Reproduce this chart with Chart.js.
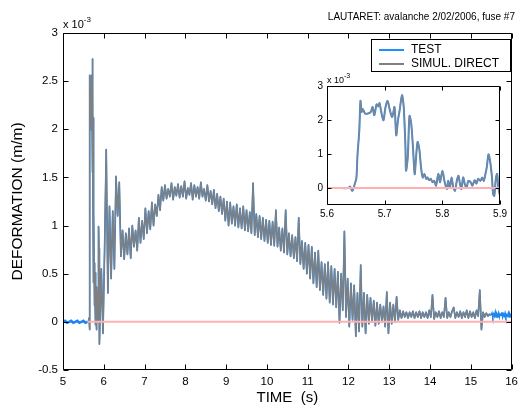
<!DOCTYPE html>
<html><head><meta charset="utf-8">
<script src="https://cdn.jsdelivr.net/npm/chart.js"></script>
<style>
html,body{margin:0;padding:0;background:#fff;}
#wrap{position:relative;width:523px;height:405px;font-family:"Liberation Sans",Arial,sans-serif;color:#000;overflow:hidden;}
canvas{position:absolute;}
.lbl{position:absolute;white-space:nowrap;line-height:1;}
.sup{position:relative;}
#legend{position:absolute;left:371px;top:39px;width:140px;height:33px;box-sizing:border-box;border:1px solid #000;background:#fff;font-size:12px;}
.row{position:absolute;left:0;height:14px;}
.smp{position:absolute;left:7px;width:25px;height:1.5px;}
.txt{position:absolute;left:39px;top:0;line-height:14px;}
</style></head><body>
<div id="wrap">
<canvas id="main" width="523" height="405" style="left:0;top:0"></canvas>
<canvas id="inset" width="214" height="152" style="left:296px;top:70px"></canvas>
<div class="lbl" style="right:8px;top:12px;font-size:10px;">LAUTARET: avalanche 2/02/2006, fuse #7</div>
<div class="lbl" style="left:63px;top:19px;font-size:11px;">x 10<span class="sup" style="font-size:8px;top:-6px;">-3</span></div>
<div class="lbl" style="left:327px;top:76px;font-size:9px;">x 10<span class="sup" style="font-size:7px;top:-5px;">-3</span></div>
<div id="legend">
  <div class="row" style="top:2px;width:138px;"><div class="smp" style="top:7px;background:#1e8fff;"></div><div class="txt">TEST</div></div>
  <div class="row" style="top:16px;width:138px;"><div class="smp" style="top:7px;background:#808080;"></div><div class="txt">SIMUL. DIRECT</div></div>
</div>
</div>
<script>
// ---- data (deformation in units of 1e-3 m/m, time in s) ----
const xTicks = [5,6,7,8,9,10,11,12,13,14,15,16];
const xTickLabels = ['5','6','7','8','9','10','11','12','13','14','15','16'];
const yTicks = [-0.5,0,0.5,1,1.5,2,2.5,3];
const yTickLabels = ['-0.5','0','0.5','1','1.5','2','2.5','3'];
const insetXTicks = [5.6,5.7,5.8,5.9];
const insetXTickLabels = ['5.6','5.7','5.8','5.9'];
const insetYTicks = [0,1,2,3];
const insetYTickLabels = ['0','1','2','3'];

// detailed record of the first shock (shown in the inset), both signals
const insetTime = [5.600,5.620,5.637,5.640,5.644,5.649,5.651,5.653,5.656,5.658,5.660,5.662,5.666,5.671,5.676,5.679,5.682,5.686,5.689,5.691,5.694,5.698,5.701,5.705,5.709,5.713,5.717,5.720,5.723,5.726,5.730,5.733,5.736,5.737,5.740,5.743,5.746,5.749,5.752,5.754,5.757,5.760,5.763,5.766,5.769,5.772,5.774,5.777,5.780,5.783,5.786,5.789,5.793,5.796,5.800,5.804,5.808,5.810,5.813,5.816,5.819,5.822,5.825,5.828,5.830,5.833,5.836,5.839,5.842,5.845,5.849,5.852,5.856,5.859,5.862,5.866,5.869,5.872,5.874,5.877,5.880,5.883,5.886,5.888,5.890,5.893,5.895,5.897,5.900];
const insetSignal = [0,0,0,0.04,-0.08,0.17,0.3,1.0,1.7,2.56,2.24,2.32,2.19,2.19,2.24,2.38,2.14,2.46,2.40,2.50,2.24,1.99,2.34,2.56,2.29,2.09,2.38,1.55,1.99,2.29,2.73,2.38,1.20,0.51,0.90,2.12,1.89,1.20,0.41,0.81,1.35,1.15,0.61,0.31,0.41,0.27,0.31,0.23,0.27,0.17,0.21,0.07,0.41,0.17,0.51,0.17,-0.03,0.21,0.01,0.31,0.01,-0.08,0.21,0.36,0.17,-0.03,0.31,0.11,0.01,0.21,0.17,0.07,0.23,0.13,0.27,0.21,0.31,0.21,0.36,0.61,0.99,0.76,0.31,-0.18,-0.23,0.31,0.41,0.01,-0.23];

// simulated / measured record, sampled every 0.04 s from 5.94 s to 15.50 s
const recordStart = 5.94, recordStep = 0.04;
const recordSignal = [
 0.55,-0.12,0.75,1.79,0.3,1.2,0.45,1.15,0.55,
 1.51,1.1,1.45,0.68,0.95,0.65,0.92,0.7,0.97,0.66,
 1.0,0.78,0.95,0.74,1.08,0.82,1.05,0.86,1.18,0.92,
 1.15,0.96,1.24,1.0,1.22,1.1,1.32,1.16,1.4,1.26,
 1.42,1.28,1.38,1.3,1.44,1.27,1.4,1.31,1.43,1.29,
 1.41,1.3,1.46,1.28,1.39,1.32,1.44,1.27,1.42,1.3,
 1.4,1.28,1.45,1.3,1.38,1.26,1.42,1.25,1.36,1.22,
 1.37,1.18,1.33,1.15,1.3,1.12,1.28,1.05,1.25,1.0,
 1.24,1.02,1.2,1.0,1.22,0.98,1.18,0.97,1.2,0.95,
 1.16,0.94,1.14,0.92,1.44,0.9,1.12,0.88,1.1,0.86,
 1.08,0.84,1.06,0.82,1.05,0.8,1.04,0.79,1.16,0.78,
 0.98,0.74,0.97,0.72,1.16,0.7,0.92,0.68,0.9,0.66,
 0.88,0.63,1.08,0.6,0.84,0.55,0.82,0.5,0.8,0.45,
 0.78,0.4,0.72,0.36,0.74,0.33,0.62,0.28,0.6,0.24,
 0.62,0.2,0.58,0.18,0.55,0.15,0.52,-0.01,0.5,0.12,
 0.94,0.05,0.45,-0.05,0.4,0.02,0.38,-0.15,0.3,-0.1,
 0.59,-0.05,0.3,-0.12,0.28,-0.02,0.25,0.0,0.22,-0.04,
 0.2,-0.02,0.18,0.0,0.16,-0.05,0.31,-0.12,0.2,-0.02,
 0.18,0.0,0.26,0.02,0.12,0.04,0.11,0.05,0.1,0.04,
 0.1,0.05,0.11,0.04,0.1,0.05,0.11,0.04,0.1,0.05,
 0.1,0.04,0.12,0.05,0.28,0.03,0.1,0.05,0.11,0.04,
 0.1,0.05,0.25,0.04,0.1,0.05,0.11,0.15,0.04,0.1,
 0.05,0.11,0.04,0.1,0.05,0.12,0.04,0.11,0.05,0.1,
 0.04,0.12,0.06,0.33,-0.08,0.1,0.05,0.09,0.06,0.08,0.07];

// measured signal only: before the shock (5.0–5.6 s, every 0.05 s) and after the simulation ends (15.52–16 s, every 0.02 s)
const testLeadStart = 5.0, testLeadStep = 0.05;
const testLead = [0,0.01,-0.01,0,0.01,-0.01,0,0.01,-0.01,0,0.01,-0.01,0];
const testTailStart = 15.52, testTailStep = 0.02;
const testTail = [0.09,0.05,0.08,0.06,0.1,0.05,0.08,0.06,0.09,0.05,0.08,0.07,0.1,0.05,0.08,0.06,0.09,0.05,0.07,0.06,0.09,0.05,0.08,0.06,0.07];

const zeroLineMain = [5.6,16];
const zeroLineInset = [5.6,5.9];

// ---- build library data ----
const insetPts = insetTime.map((t,i)=>({x:t,y:insetSignal[i]}));
const recordPts = recordSignal.map((v,i)=>({x:recordStart+i*recordStep,y:v}));
const leadPts = testLead.map((v,i)=>({x:testLeadStart+i*testLeadStep,y:v}));
const tailPts = [recordPts[recordPts.length-1]].concat(testTail.map((v,i)=>({x:testTailStart+i*testTailStep,y:v})));
const simulMain = insetPts.concat(recordPts);

const FONT = "'Liberation Sans', Arial, sans-serif";
Chart.defaults.font.family = FONT;
Chart.defaults.color = '#000';

const framePlugin = {
  id:'frame',
  afterDatasetsDraw(chart, args, opts){
    const {ctx, chartArea:a} = chart;
    const x = chart.scales.x, y = chart.scales.y;
    const L = opts.len || 5;
    ctx.save();
    ctx.strokeStyle = '#000'; ctx.lineWidth = 1;
    const l = Math.round(a.left)+0.5, r = Math.round(a.right)-0.5, t = Math.round(a.top)+0.5, b = Math.round(a.bottom)-0.5;
    ctx.beginPath();
    ctx.rect(l, t, r-l, b-t);
    x.ticks.forEach(tk=>{
      const p = Math.round(x.getPixelForValue(tk.value))+0.5;
      ctx.moveTo(p,b); ctx.lineTo(p,b-L);
      ctx.moveTo(p,t); ctx.lineTo(p,t+L);
    });
    y.ticks.forEach(tk=>{
      const p = Math.round(y.getPixelForValue(tk.value))+0.5;
      ctx.moveTo(l,p); ctx.lineTo(l+L,p);
      ctx.moveTo(r,p); ctx.lineTo(r-L,p);
    });
    ctx.stroke();
    ctx.restore();
  }
};

function lbl(ticks, labels){ return v => { const i = ticks.findIndex(t=>Math.abs(t-v)<1e-9); return i<0?'':labels[i]; }; }

const BLUE = '#1f86ef', GRAY = '#808080';
new Chart(document.getElementById('main'), {
  type:'line',
  data:{datasets:[
    {label:'zero', data:zeroLineMain.map(t=>({x:t,y:0})), borderColor:'#ffb0b0', borderWidth:2, order:0},
    {label:'SIMUL. DIRECT', data:simulMain, borderColor:GRAY, borderWidth:1.4, order:1, borderJoinStyle:'round'},
    {label:'TEST', data:insetPts.concat(recordPts), borderColor:BLUE, borderWidth:1.7, order:2, borderJoinStyle:'round'},
    {label:'TEST lead', data:leadPts.concat([insetPts[0]]), borderColor:BLUE, borderWidth:2.6, order:3},
    {label:'TEST tail', data:tailPts, borderColor:BLUE, borderWidth:1.6, order:3}
  ]},
  options:{
    responsive:false, animation:false, devicePixelRatio:1,
    layout:{padding:{left:0,right:8,top:33,bottom:0}},
    elements:{point:{radius:0}, line:{tension:0}},
    plugins:{legend:{display:false}, tooltip:{enabled:false}, frame:{len:5}},
    scales:{
      x:{type:'linear', min:5, max:16,
         afterBuildTicks:s=>{s.ticks = xTicks.map(v=>({value:v}));},
         afterFit:s=>{s.height = 35;},
         grid:{display:false, drawTicks:false}, border:{display:false},
         ticks:{autoSkip:false, maxRotation:0, padding:5, font:{size:11.5}, callback:lbl(xTicks,xTickLabels)},
         title:{display:true, text:'TIME  (s)', font:{size:15, lineHeight:1}, padding:{top:0,bottom:0}}
      },
      y:{type:'linear', min:-0.5, max:3,
         afterBuildTicks:s=>{s.ticks = yTicks.map(v=>({value:v}));},
         afterFit:s=>{s.width = 63;},
         grid:{display:false, drawTicks:false}, border:{display:false},
         ticks:{autoSkip:false, padding:5, font:{size:11.5}, callback:lbl(yTicks,yTickLabels)},
         title:{display:true, text:'DEFORMATION (m/m)', font:{size:15.5, lineHeight:1}, padding:{top:10,bottom:0}}
      }
    }
  },
  plugins:[framePlugin]
});

new Chart(document.getElementById('inset'), {
  type:'line',
  data:{datasets:[
    {label:'zero', data:zeroLineInset.map(t=>({x:t,y:0})), borderColor:'#ffb0b0', borderWidth:2, order:0},
    {label:'SIMUL. DIRECT', data:insetPts, borderColor:'#7a8796', borderWidth:1.3, order:1, tension:0.3},
    {label:'TEST', data:insetPts, borderColor:'#3c8de0', borderWidth:2, order:2, tension:0.3}
  ]},
  options:{
    responsive:false, animation:false, devicePixelRatio:1,
    layout:{padding:{left:0,right:8,top:16,bottom:0}},
    elements:{point:{radius:0}},
    plugins:{legend:{display:false}, tooltip:{enabled:false}, frame:{len:4}},
    scales:{
      x:{type:'linear', min:5.6, max:5.9,
         afterBuildTicks:s=>{s.ticks = insetXTicks.map(v=>({value:v}));},
         afterFit:s=>{s.height = 17;},
         grid:{display:false, drawTicks:false}, border:{display:false},
         ticks:{autoSkip:false, maxRotation:0, padding:3, font:{size:10}, callback:lbl(insetXTicks,insetXTickLabels)}
      },
      y:{type:'linear', min:-0.5, max:3,
         afterBuildTicks:s=>{s.ticks = insetYTicks.map(v=>({value:v}));},
         afterFit:s=>{s.width = 31;},
         grid:{display:false, drawTicks:false}, border:{display:false},
         ticks:{autoSkip:false, padding:4, font:{size:10}, callback:lbl(insetYTicks,insetYTickLabels)}
      }
    }
  },
  plugins:[framePlugin]
});
</script>
</body></html>
